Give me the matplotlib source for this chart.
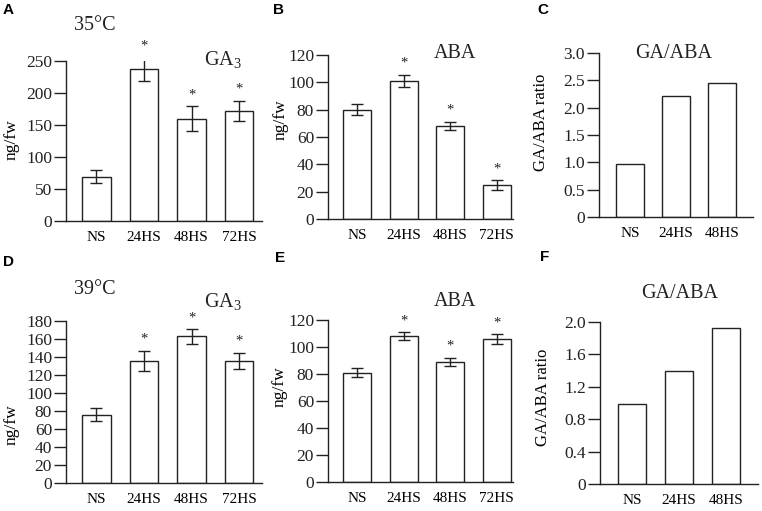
import matplotlib
matplotlib.use('Agg')
import matplotlib.pyplot as plt

plt.rcParams['font.family'] = ['Liberation Serif', 'DejaVu Serif']
plt.rcParams['mathtext.fontset'] = 'custom'
plt.rcParams['mathtext.rm'] = 'Liberation Serif'

cats4 = ['NS', '24HS', '48HS', '72HS']
cats3 = ['NS', '24HS', '48HS']

# panel A: GA3 at 35C
ga35 = [69, 237, 160, 172]
ga35_err = [10, 18, 19, 16]
# panel B: ABA at 35C
aba35 = [80, 101, 68, 25]
aba35_err = [4, 4.5, 3, 3.5]
# panel C: ratio at 35C
ratio35 = [0.97, 2.22, 2.46]
# panel D: GA3 at 39C
ga39 = [76, 136, 163, 136]
ga39_err = [7, 11, 8, 9]
# panel E: ABA at 39C
aba39 = [81, 108, 89, 106]
aba39_err = [3.5, 3, 3, 3.5]
# panel F: ratio at 39C
ratio39 = [0.99, 1.40, 1.92]

W, H = 762, 511
fig = plt.figure(figsize=(W / 100, H / 100), dpi=100)

DARK = '#222222'


def panel(box, cats, vals, errs, ylim, ticks, ticklabels, xlim, ylabel, stars, label_px):
    left, top, right, bottom = box
    ax = fig.add_axes([left / W, 1 - bottom / H, (right - left) / W, (bottom - top) / H])
    xs = list(range(len(cats)))
    ax.bar(xs, vals, width=0.6, color='white', edgecolor=DARK, linewidth=1.0)
    if errs is not None:
        ax.errorbar(xs, vals, yerr=errs, fmt='none', ecolor=DARK, elinewidth=1.0,
                    capsize=4, capthick=1.0)
        span = ylim[1] - ylim[0]
        for x, v, e, s in zip(xs, vals, errs, stars):
            if s:
                ax.text(x, v + e + span * 0.03, '*', ha='center', va='bottom',
                        fontsize=10.5, color=DARK)
    ax.set_ylim(*ylim)
    ax.set_xlim(*xlim)
    ax.set_yticks(ticks)
    ax.set_yticklabels(ticklabels, fontsize=12.5)
    ax.set_xticks(xs)
    ax.set_xticklabels(cats, fontsize=11)
    ax.tick_params(axis='x', length=0, pad=7)
    ax.tick_params(axis='y', length=9, width=1.0, direction='out', pad=1, colors=DARK)
    for sp in ['top', 'right']:
        ax.spines[sp].set_visible(False)
    for sp in ['left', 'bottom']:
        ax.spines[sp].set_color(DARK)
        ax.spines[sp].set_linewidth(1.0)
    ax.set_ylabel(ylabel, fontsize=12.5 if len(cats) == 4 else 12, va='center')
    lx, ly = label_px
    ax.yaxis.set_label_coords((lx - left) / (right - left), (bottom - ly) / (bottom - top))
    ax.patch.set_alpha(0)
    return ax


# A
panel((66, 61, 262, 221), cats4, ga35, ga35_err, (0, 250),
      [0, 50, 100, 150, 200, 250], ['0', '50', '100', '150', '200', '250'],
      (-0.64, 3.48), 'ng/fw', [False, True, True, True], (12, 140))
# B
panel((328, 55, 513, 219), cats4, aba35, aba35_err, (0, 120),
      [0, 20, 40, 60, 80, 100, 120], ['0', '20', '40', '60', '80', '100', '120'],
      (-0.63, 3.35), 'ng/fw', [False, True, True, True], (281, 120))
# C
panel((599, 53, 753, 217), cats3, ratio35, None, (0, 3.0),
      [0, 0.5, 1.0, 1.5, 2.0, 2.5, 3.0], ['0', '0.5', '1.0', '1.5', '2.0', '2.5', '3.0'],
      (-0.67, 2.67), 'GA/ABA ratio', None, (541, 122))
# D
panel((66, 321, 262, 483), cats4, ga39, ga39_err, (0, 180),
      list(range(0, 181, 20)), [str(v) for v in range(0, 181, 20)],
      (-0.64, 3.48), 'ng/fw', [False, True, True, True], (12, 425))
# E
panel((328, 320, 513, 482), cats4, aba39, aba39_err, (0, 120),
      [0, 20, 40, 60, 80, 100, 120], ['0', '20', '40', '60', '80', '100', '120'],
      (-0.63, 3.35), 'ng/fw', [False, True, True, True], (280, 387))
# F
panel((600, 322, 758, 484), cats3, ratio39, None, (0, 2.0),
      [0, 0.4, 0.8, 1.2, 1.6, 2.0], ['0', '0.4', '0.8', '1.2', '1.6', '2.0'],
      (-0.68, 2.68), 'GA/ABA ratio', None, (543, 397))


def ftext(x, y, s, **kw):
    fig.text(x / W, 1 - y / H, s, **kw)


# panel letters
for x, y, s in [(8, 10, 'A'), (279, 10, 'B'), (543, 10, 'C'),
                (8, 262, 'D'), (280, 258, 'E'), (545, 257, 'F')]:
    ftext(x, y, s, fontsize=11, fontweight='bold', family='Liberation Sans',
          ha='center', va='center', color='black')

# titles
TS = 14.5
ftext(95, 25, '35°C', fontsize=TS, ha='center', va='center', color=DARK)
ftext(95, 290, '39°C', fontsize=TS, ha='center', va='center', color=DARK)
ftext(223, 60, r'GA$_{\mathregular{3}}$', fontsize=TS, ha='center', va='center', color=DARK)
ftext(223, 302, r'GA$_{\mathregular{3}}$', fontsize=TS, ha='center', va='center', color=DARK)
ftext(455, 53, 'ABA', fontsize=TS, ha='center', va='center', color=DARK)
ftext(455, 302, 'ABA', fontsize=TS, ha='center', va='center', color=DARK)
ftext(674, 53, 'GA/ABA', fontsize=TS, ha='center', va='center', color=DARK)
ftext(680, 293, 'GA/ABA', fontsize=TS, ha='center', va='center', color=DARK)

fig.savefig('out.png', dpi=100)
